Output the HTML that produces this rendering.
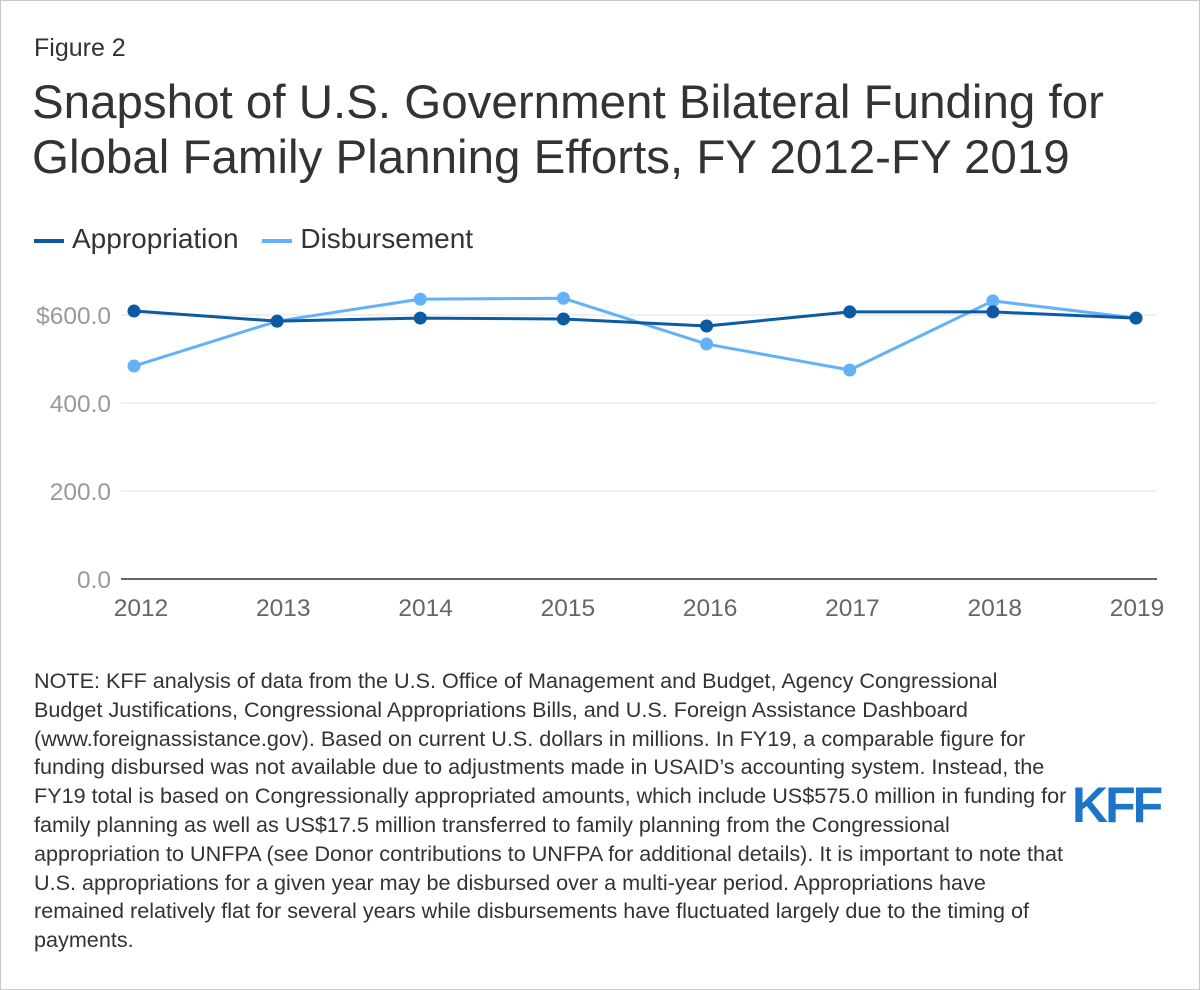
<!DOCTYPE html>
<html><head><meta charset="utf-8">
<style>
body{margin:0;background:#fff;font-family:"Liberation Sans",Arial,sans-serif;}
#frame{position:absolute;left:0;top:0;width:1198px;height:988px;border:1px solid #c8c8c8;background:#fff;}
.t{position:absolute;color:#333;white-space:nowrap;}
</style></head><body>
<div id="frame">
<div class="t" style="left:33px;top:33px;font-size:25px;">Figure 2</div>
<div class="t" style="left:31px;top:74px;font-size:47.5px;line-height:55px;color:#333;">Snapshot of U.S. Government Bilateral Funding for<br>Global Family Planning Efforts, FY 2012-FY 2019</div>
<div style="position:absolute;left:33px;top:222px;font-size:28px;color:#333;white-space:nowrap;">
 <span><span style="display:inline-block;width:30px;height:4px;background:#0b5aa2;vertical-align:middle;margin-right:8px;"></span>Appropriation</span>
 <span style="margin-left:16px;"><span style="display:inline-block;width:30px;height:4px;background:#64b1f7;vertical-align:middle;margin-right:8px;"></span>Disbursement</span>
</div>
<svg id="chart" width="1200" height="640" style="position:absolute;left:0;top:0;"></svg>
<div class="t" style="left:33px;top:666px;font-size:21.6px;line-height:28.8px;">NOTE: KFF analysis of data from the U.S. Office of Management and Budget, Agency Congressional<br>Budget Justifications, Congressional Appropriations Bills, and U.S. Foreign Assistance Dashboard<br>(www.foreignassistance.gov). Based on current U.S. dollars in millions. In FY19, a comparable figure for<br>funding disbursed was not available due to adjustments made in USAID’s accounting system. Instead, the<br>FY19 total is based on Congressionally appropriated amounts, which include US$575.0 million in funding for<br>family planning as well as US$17.5 million transferred to family planning from the Congressional<br>appropriation to UNFPA (see Donor contributions to UNFPA for additional details). It is important to note that<br>U.S. appropriations for a given year may be disbursed over a multi-year period. Appropriations have<br>remained relatively flat for several years while disbursements have fluctuated largely due to the timing of<br>payments.</div>
<div style="position:absolute;left:1071px;top:779px;font-size:50px;font-weight:bold;color:#1d75c9;letter-spacing:-3px;line-height:50px;">KFF</div>
</div>
<script>
const years=["2012","2013","2014","2015","2016","2017","2018","2019"];
const appropriation=[609,586,593,591,575,607,607,593];
const disbursement=[484,586,636,638,534,475,632,593];
const yTicks=[0,200,400,600];
const yTickLabels=["0.0","200.0","400.0","$600.0"];
const svg=document.getElementById('chart');
const NS='http://www.w3.org/2000/svg';
const x=i=>133+i*(1135-133)/(years.length-1);
const xl=i=>140+i*(1136-140)/(years.length-1);
const y=v=>578-v*(264/600);
function mk(t,a){const e=document.createElementNS(NS,t);for(const k in a)e.setAttribute(k,a[k]);svg.appendChild(e);return e;}
yTicks.forEach((v,i)=>{
 const g=mk('line',{x1:120,x2:1156,y1:y(v),y2:y(v),stroke:v===0?'#333':'#e0e0e0','stroke-width':v===0?1.5:1});
 
 
 const t=mk('text',{x:110,y:y(v)+9,'text-anchor':'end','font-size':24.5,fill:'#999','font-family':'Liberation Sans, sans-serif'});
 t.textContent=yTickLabels[i];
 
 
});
years.forEach((yr,i)=>{
 const t=mk('text',{x:xl(i),y:615,'text-anchor':'middle','font-size':24.5,fill:'#666','font-family':'Liberation Sans, sans-serif'});
 t.textContent=yr;
 
 
});
function series(vals,color,name){
 const p=mk('polyline',{points:vals.map((v,i)=>x(i)+','+y(v)).join(' '),fill:'none',stroke:color,'stroke-width':3});
 
 
 vals.forEach((v,i)=>{
  const c=mk('circle',{cx:x(i),cy:y(v),r:6.5,fill:color});
  
  
 });
}
series(disbursement,'#64b1f7','disbursement');
series(appropriation,'#0b5aa2','appropriation');
</script>
</body></html>
